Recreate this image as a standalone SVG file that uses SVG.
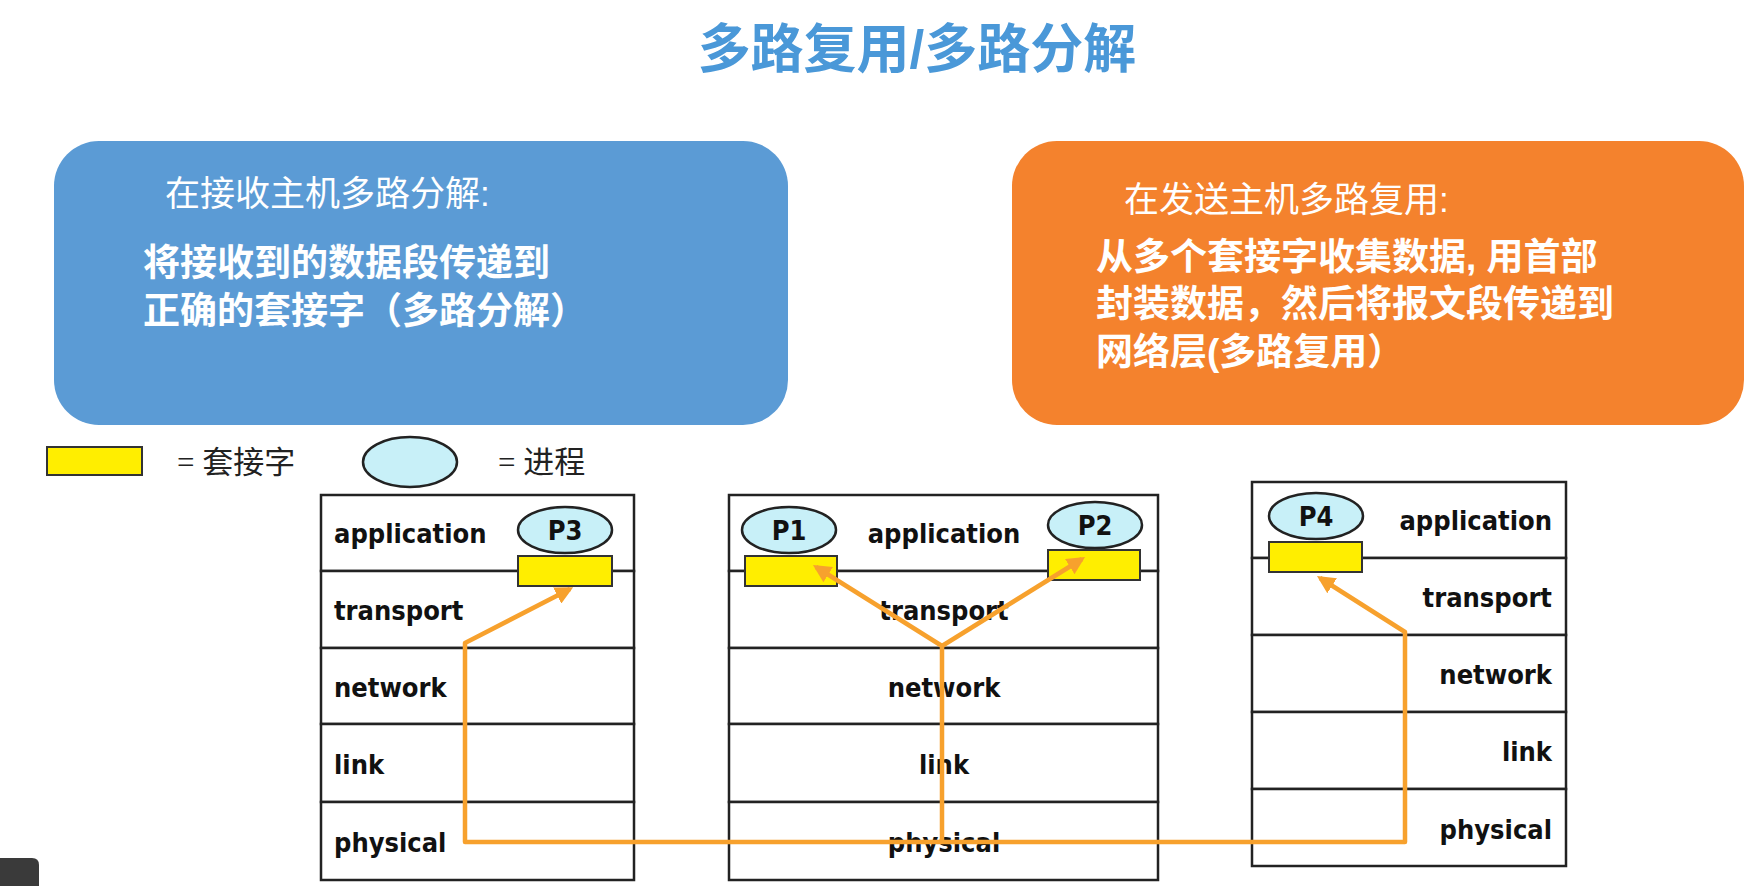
<svg xmlns="http://www.w3.org/2000/svg" width="1753" height="886" viewBox="0 0 1753 886">
<style>
.cjk{font-family:"Liberation Sans","Noto Sans CJK SC",sans-serif;fill:#fff}
.lay{font-family:"DejaVu Sans Condensed","DejaVu Sans",sans-serif;font-weight:bold;font-size:27px;fill:#111}
.row{fill:#fff;stroke:#222;stroke-width:2.5}
.sock{fill:#ffee00;stroke:#333;stroke-width:2}
.proc{fill:#c8f0f8;stroke:#222;stroke-width:2.5}
.pl{font-family:"DejaVu Sans Condensed","DejaVu Sans",sans-serif;font-weight:bold;font-size:27px;fill:#111;text-anchor:middle}
.con{fill:none;stroke:#f7a12d;stroke-width:4.5;stroke-linejoin:round;marker-end:url(#ah)}
</style>
<defs>
<marker id="ah" viewBox="0 0 10 10" refX="8" refY="5" markerWidth="4" markerHeight="4" orient="auto"><path d="M0,0L10,5L0,10z" fill="#f7a12d"/></marker>
</defs>
<rect width="1753" height="886" fill="#fff"/>
<text x="917" y="68" text-anchor="middle" font-family="Liberation Sans,'Noto Sans CJK SC',sans-serif" font-weight="bold" font-size="53" fill="#4a98d8">多路复用/多路分解</text>

<g id="blue-box">
<rect x="54" y="141" width="734" height="284" rx="45" fill="#5b9bd5"/>
<text class="cjk" x="165" y="206" font-size="35">在接收主机多路分解:</text>
<text class="cjk" x="143" y="276" font-size="37" font-weight="bold">将接收到的数据段传递到</text>
<text class="cjk" x="143" y="324" font-size="37" font-weight="bold">正确的套接字（多路分解）</text>
</g>
<g id="orange-box">
<rect x="1012" y="141" width="732" height="284" rx="45" fill="#f4822d"/>
<text class="cjk" x="1124" y="212" font-size="35">在发送主机多路复用:</text>
<text class="cjk" x="1096" y="270" font-size="37" font-weight="bold">从多个套接字收集数据, 用首部</text>
<text class="cjk" x="1096" y="317" font-size="37" font-weight="bold">封装数据，然后将报文段传递到</text>
<text class="cjk" x="1096" y="365" font-size="37" font-weight="bold">网络层(多路复用）</text>
</g>

<g id="legend">
<rect class="sock" x="47" y="447" width="95" height="28"/>
<text x="177" y="473" font-family="Liberation Serif,'Noto Sans CJK SC',serif" font-size="31" fill="#222">= 套接字</text>
<ellipse class="proc" cx="410" cy="462" rx="47" ry="25"/>
<text x="498" y="473" font-family="Liberation Serif,'Noto Sans CJK SC',serif" font-size="31" fill="#222">= 进程</text>
</g>

<g id="host-left">
<rect class="row" x="321" y="495" width="313" height="76"/>
<rect class="row" x="321" y="571" width="313" height="77"/>
<rect class="row" x="321" y="648" width="313" height="76"/>
<rect class="row" x="321" y="724" width="313" height="78"/>
<rect class="row" x="321" y="802" width="313" height="78"/>
<text class="lay" x="334" y="543">application</text>
<text class="lay" x="334" y="620">transport</text>
<text class="lay" x="334" y="697">network</text>
<text class="lay" x="334" y="774">link</text>
<text class="lay" x="334" y="852">physical</text>
<ellipse class="proc" cx="565" cy="530" rx="47" ry="23"/>
<text class="pl" x="565" y="540">P3</text>
<rect class="sock" x="518" y="556" width="94" height="30"/>
</g>

<g id="host-middle">
<rect class="row" x="729" y="495" width="429" height="76"/>
<rect class="row" x="729" y="571" width="429" height="77"/>
<rect class="row" x="729" y="648" width="429" height="76"/>
<rect class="row" x="729" y="724" width="429" height="78"/>
<rect class="row" x="729" y="802" width="429" height="78"/>
<text class="lay" x="944" y="543" text-anchor="middle">application</text>
<text class="lay" x="944" y="620" text-anchor="middle">transport</text>
<text class="lay" x="944" y="697" text-anchor="middle">network</text>
<text class="lay" x="944" y="774" text-anchor="middle">link</text>
<text class="lay" x="944" y="852" text-anchor="middle">physical</text>
<ellipse class="proc" cx="789" cy="530" rx="47" ry="23"/>
<text class="pl" x="789" y="540">P1</text>
<rect class="sock" x="745" y="556" width="92" height="30"/>
<ellipse class="proc" cx="1095" cy="525" rx="47" ry="23"/>
<text class="pl" x="1095" y="535">P2</text>
<rect class="sock" x="1048" y="550" width="92" height="30"/>
</g>

<g id="host-right">
<rect class="row" x="1252" y="482" width="314" height="76"/>
<rect class="row" x="1252" y="558" width="314" height="77"/>
<rect class="row" x="1252" y="635" width="314" height="77"/>
<rect class="row" x="1252" y="712" width="314" height="77"/>
<rect class="row" x="1252" y="789" width="314" height="77"/>
<text class="lay" x="1552" y="530" text-anchor="end">application</text>
<text class="lay" x="1552" y="607" text-anchor="end">transport</text>
<text class="lay" x="1552" y="684" text-anchor="end">network</text>
<text class="lay" x="1552" y="761" text-anchor="end">link</text>
<text class="lay" x="1552" y="839" text-anchor="end">physical</text>
<ellipse class="proc" cx="1316" cy="516" rx="47" ry="23"/>
<text class="pl" x="1316" y="526">P4</text>
<rect class="sock" x="1269" y="542" width="93" height="30"/>
</g>

<g id="connectors">
<path class="con" d="M942,842 L465,842 L465,643 L570,589"/>
<path class="con" d="M942,842 L942,646 L816,567"/>
<path class="con" d="M942,646 L1082,559"/>
<path class="con" d="M942,842 L1405,842 L1405,632 L1320,578"/>
</g>
<path d="M0,858 H32 Q39,858 39,865 V886 H0 Z" fill="#3a3a3a"/>
</svg>
